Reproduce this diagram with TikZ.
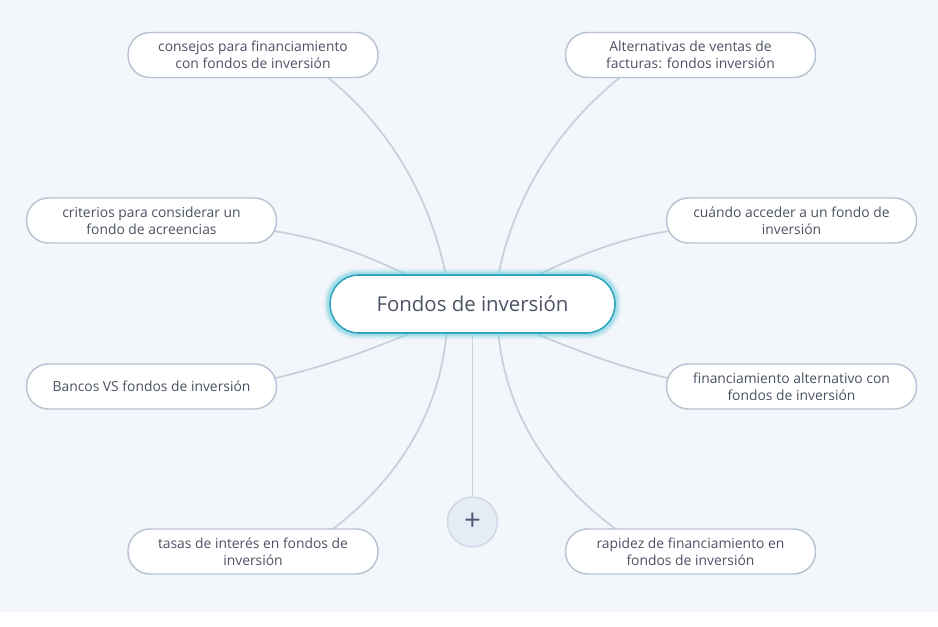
\documentclass[tikz,border=0pt]{standalone}
\usepackage{fontspec}
\setmainfont{Open Sans}
\usepackage{tikz}
\usetikzlibrary{backgrounds}

\definecolor{canvas}{HTML}{F3F6FA}
\definecolor{linkgray}{HTML}{C8D0DE}
\definecolor{leafedge}{HTML}{B9C3D3}
\definecolor{inktext}{HTML}{4B5263}
\definecolor{rootedge}{HTML}{2FA6BD}
\definecolor{glowcyan}{HTML}{6FCFE0}
\definecolor{plusfill}{HTML}{E6ECF5}
\definecolor{plusedge}{HTML}{CDD6E4}
\definecolor{plusink}{HTML}{4A5A72}

\begin{document}
\begin{tikzpicture}[
        x=0.75pt, y=-0.75pt,
        leaf/.style={draw=leafedge, line width=1.1pt, fill=white, rounded corners=16.5pt,
            minimum width=187.5pt, minimum height=33.75pt, inner sep=0pt,
            align=center, text=inktext, font=\fontsize{10.4}{12.75}\selectfont},
        root/.style={draw=rootedge, line width=1.2pt, fill=white, rounded corners=21.5pt,
            minimum width=213.75pt, minimum height=43.5pt, text=inktext,
            font=\fontsize{15.3}{17}\selectfont},
        addbtn/.style={circle, draw=plusedge, line width=1pt, fill=plusfill,
            minimum size=37.5pt, inner sep=0pt, text=plusink, font=\fontsize{22}{22}\selectfont},
        link/.style={draw=linkgray, line width=1.3pt, shorten <=-4pt, shorten >=-6pt}
    ]
        \useasboundingbox (0,0) rectangle (938,627);

        \node [root] (root) at (472.5,304) {Fondos de inversión};

        \node [leaf] (cons)    at (253,55)      {consejos para financiamiento\\con fondos de inversión};
        \node [leaf] (alt)     at (690.5,55)    {Alternativas de ventas de\\facturas: fondos inversión};
        \node [leaf] (crit)    at (151.5,220.5) {criterios para considerar un\\fondo de acreencias};
        \node [leaf] (cuando)  at (791.5,220.5) {cuándo acceder a un fondo de\\inversión};
        \node [leaf] (bancos)  at (151.5,386.5) {Bancos VS fondos de inversión};
        \node [leaf] (finalt)  at (791.5,386.5) {financiamiento alternativo con\\fondos de inversión};
        \node [leaf] (tasas)   at (253,551.5)   {tasas de interés en fondos de\\inversión};
        \node [leaf] (rapidez) at (690.5,551.5) {rapidez de financiamiento en\\fondos de inversión};

        \node [addbtn] (add) at (472.5,522) {+};

        \begin{scope}[on background layer]
            \fill [canvas] (0,0) rectangle (938,612);

            \draw [link] (root.132) .. controls +(-16,-83) and +(55,43)  .. (cons.343);
            \draw [link] (root.49)  .. controls +(16,-83)  and +(-56,43) .. (alt.198);
            \draw [link] (root.156) .. controls +(-37,-18) and +(45,6)   .. (crit.355);
            \draw [link] (root.24)  .. controls +(37,-18)  and +(-45,6)  .. (cuando.185);
            \draw [link] (root.205) .. controls +(-40,17)  and +(44,-10) .. (bancos.4);
            \draw [link] (root.335) .. controls +(40,17)   and +(-44,-10) .. (finalt.176);
            \draw [link] (root.229) .. controls +(-6,77)   and +(65,-48) .. (tasas.16);
            \draw [link] (root.311) .. controls +(6,77)    and +(-67,-48) .. (rapidez.163);
            \draw [link, shorten >=0pt] (root.south) -- (add.north);

            \foreach \w/\o in {9/0.08,7/0.12,5/0.2,3.5/0.3}
                \draw [glowcyan, line width=\w pt, opacity=\o, rounded corners=21.5pt]
                    (root.south west) rectangle (root.north east);
        \end{scope}
    \end{tikzpicture}
\end{document}
